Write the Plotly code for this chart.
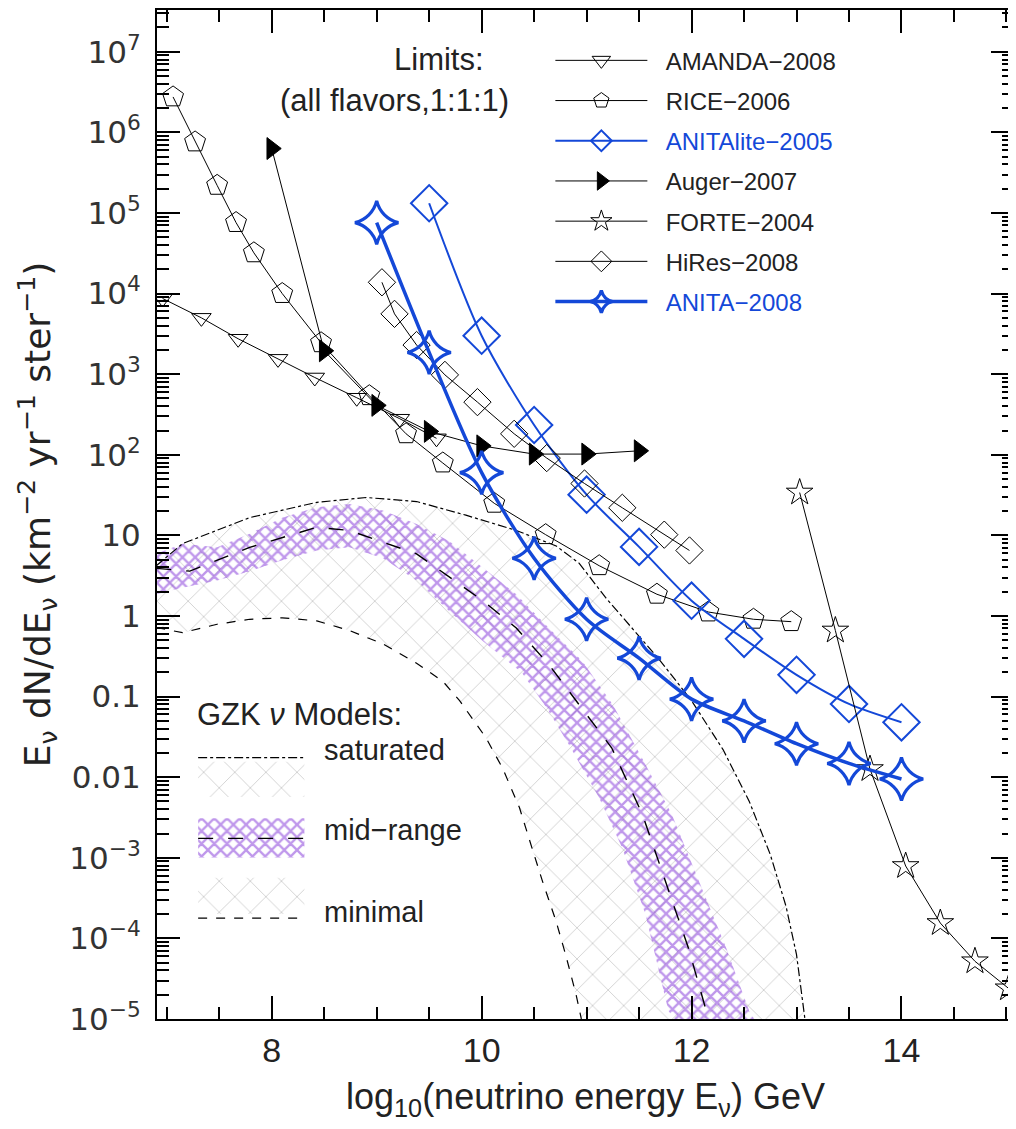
import plotly.graph_objects as go

# ---------------- data ----------------
amanda_x = [6.96, 7.33, 7.68, 8.06, 8.41, 8.81, 9.22, 9.57]
amanda_y = [8700, 5000, 2750, 1550, 910, 510, 280, 160]

rice_x = [7.06, 7.27, 7.48, 7.66, 7.83, 8.10, 8.47, 8.93, 9.28, 9.63, 10.12, 10.61, 11.12, 11.67, 12.16, 12.59, 12.95]
rice_y = [2.75e6, 7.6e5, 2.2e5, 7.6e4, 3.2e4, 1.0e4, 2450, 540, 182, 79, 25, 10.2, 4.2, 1.86, 1.12, 0.91, 0.85]

anitalite_x = [9.5, 10.0, 10.5, 11.0, 11.5, 12.0, 12.5, 13.0, 13.5, 14.0]
anitalite_y = [1.32e5, 3000, 234, 32, 7.2, 1.55, 0.52, 0.186, 0.081, 0.048]

auger_x = [8.0, 8.5, 9.0, 9.5, 10.0, 10.5, 11.0, 11.5]
auger_y = [6.3e5, 1950, 410, 195, 129, 102, 102, 112]

forte_x = [13.03, 13.37, 13.70, 14.04, 14.37, 14.70, 15.02]
forte_y = [34, 0.66, 0.0126, 7.9e-4, 1.55e-4, 5.2e-5, 2.4e-5]

hires_x = [9.05, 9.17, 9.38, 9.65, 9.96, 10.31, 10.62, 10.98, 11.34, 11.74, 11.98]
hires_y = [13800, 5600, 2300, 980, 450, 182, 91, 44, 22, 10.2, 6.5]

anita_x = [9.0, 9.5, 10.0, 10.5, 11.0, 11.5, 12.0, 12.5, 13.0, 13.5, 14.0]
anita_y = [7.6e4, 1860, 60, 5.2, 0.91, 0.30, 0.093, 0.050, 0.026, 0.0148, 0.0095]

# GZK model curves
sat_x = [6.9, 7.15, 7.79, 8.43, 8.90, 9.38, 9.85, 10.33, 10.71, 10.93, 11.18, 11.40, 11.70, 12.0, 12.3, 12.55, 12.75, 12.9, 13.0, 13.08]
sat_y = [4.2, 7.9, 16.6, 25.7, 29.5, 26.3, 17.8, 11.5, 7.4, 4.5, 1.7, 0.79, 0.28, 0.089, 0.022, 0.005, 1.1e-3, 2.5e-4, 6.3e-5, 1e-5]

min_x = [6.9, 7.15, 7.48, 7.79, 8.10, 8.43, 8.74, 9.06, 9.38, 9.63, 9.79, 10.04, 10.20, 10.36, 10.48, 10.58, 10.71, 10.80, 10.90, 10.95]
min_y = [0.72, 0.62, 0.79, 0.91, 0.95, 0.87, 0.66, 0.45, 0.26, 0.155, 0.089, 0.031, 0.0129, 4.2e-3, 1.32e-3, 5.1e-4, 1.62e-4, 6.3e-5, 2.0e-5, 1e-5]

mid_x = [6.9, 7.22, 7.79, 8.43, 8.74, 9.38, 10.01, 10.33, 10.64, 11.24, 11.53, 11.75, 11.97, 12.14, 12.17]
mid_y = [3.9, 3.6, 7.1, 12.6, 11.5, 5.9, 1.55, 0.71, 0.25, 0.023, 3.5e-3, 5.1e-4, 7.6e-5, 1.26e-5, 1e-5]

midhi_x = [6.9, 7.15, 7.48, 7.79, 8.10, 8.43, 8.74, 9.06, 9.38, 9.69, 10.01, 10.33, 10.64, 10.96, 11.25, 11.56, 11.81, 12.07, 12.33, 12.56, 12.6]
midhi_y = [5.9, 7.9, 7.1, 10.5, 16.6, 22.4, 24.5, 20.4, 13.8, 8.5, 4.0, 1.86, 0.71, 0.275, 0.079, 0.0145, 3.5e-3, 5.1e-4, 7.6e-5, 1.15e-5, 1e-5]

midlo_x = [6.9, 7.15, 7.48, 7.79, 8.10, 8.43, 8.74, 9.06, 9.38, 9.69, 10.01, 10.38, 10.62, 10.85, 11.12, 11.34, 11.56, 11.78, 11.84]
midlo_y = [1.86, 2.24, 2.75, 3.6, 4.9, 6.5, 7.1, 5.2, 2.75, 1.15, 0.49, 0.2, 0.072, 0.023, 5.5e-3, 1.32e-3, 2.0e-4, 1.26e-5, 1e-5]

y_tick_vals = [1e-5, 1e-4, 1e-3, 1e-2, 1e-1, 1, 10, 1e2, 1e3, 1e4, 1e5, 1e6, 1e7]
y_tick_text = ["10<sup>\u22125</sup>", "10<sup>\u22124</sup>", "10<sup>\u22123</sup>", "0.01", "0.1", "1", "10",
               "10<sup>2</sup>", "10<sup>3</sup>", "10<sup>4</sup>", "10<sup>5</sup>", "10<sup>6</sup>", "10<sup>7</sup>"]

BLUE = "#1448d8"
PURPLE = "#8030d8"
GREY = "rgba(0,0,0,0.6)"
FONT = "Liberation Sans"
NB = "\u00a0\u00a0"

fig = go.Figure()

GREY_PAT = dict(shape="x", size=22, solidity=0.05, fgcolor=GREY, bgcolor="rgba(0,0,0,0)")
PURP_PAT = dict(shape="x", size=9, solidity=0.45, fgcolor=PURPLE, bgcolor="rgba(0,0,0,0)")

# ---------------- GZK bands ----------------
fig.add_trace(go.Scatter(
    x=sat_x + min_x[::-1], y=sat_y + min_y[::-1], mode="lines", fill="toself",
    fillcolor="rgba(0,0,0,0)", line=dict(width=0), fillpattern=GREY_PAT,
    showlegend=False, hoverinfo="skip"))
fig.add_trace(go.Scatter(
    x=midhi_x + midlo_x[::-1], y=midhi_y + midlo_y[::-1], mode="lines", fill="toself",
    fillcolor="rgba(0,0,0,0)", line=dict(width=0), fillpattern=PURP_PAT,
    showlegend=False, hoverinfo="skip"))
fig.add_trace(go.Scatter(x=sat_x, y=sat_y, mode="lines", line=dict(color="black", width=1.2, dash="dashdot"),
                         showlegend=False, hoverinfo="skip"))
fig.add_trace(go.Scatter(x=min_x, y=min_y, mode="lines", line=dict(color="black", width=1.2, dash="dash"),
                         showlegend=False, hoverinfo="skip"))
fig.add_trace(go.Scatter(x=mid_x, y=mid_y, mode="lines", line=dict(color="black", width=1.4, dash="longdash"),
                         showlegend=False, hoverinfo="skip"))

# ---------------- experimental limits ----------------
def add_limit(x, y, name, symbol, size, color, lw, mlw, shape="linear", group=None):
    fig.add_trace(go.Scatter(
        x=x, y=y, name=name, mode="lines+markers", legendgroup=group or name,
        line=dict(color=color, width=lw, shape=shape, smoothing=0.8),
        marker=dict(symbol=symbol, size=size, color=color, line=dict(color=color, width=mlw)),
    ))

add_limit(amanda_x, amanda_y, NB + "AMANDA\u22122008", "triangle-down-open", 17, "black", 1, 1, group="a")
add_limit(rice_x, rice_y, NB + "RICE\u22122006", "pentagon-open", 22, "black", 1, 1, group="b")
add_limit(anitalite_x, anitalite_y, NB + f'<span style="color:{BLUE}">ANITAlite\u22122005</span>',
          "diamond-open", 28, BLUE, 2, 2, shape="spline", group="c")
add_limit(auger_x, auger_y, NB + "Auger\u22122007", "triangle-right", 19, "black", 1, 1, group="d")
add_limit(forte_x, forte_y, NB + "FORTE\u22122004", "star-open", 20, "black", 1, 1, group="e")
add_limit(hires_x, hires_y, NB + "HiRes\u22122008", "diamond-open", 21, "black", 1, 1, group="f")
add_limit(anita_x, anita_y, NB + f'<span style="color:{BLUE}">ANITA\u22122008</span>',
          "star-diamond-open", 31, BLUE, 3.5, 3.2, shape="spline", group="g")

# ---------------- GZK legend swatches (overlay axis in plot fractions) ----------------
def frac_box(x0, x1, y0, y1):
    return [x0, x1, x1, x0, x0], [y0, y0, y1, y1, y0]

sw_x0, sw_x1 = 0.048, 0.172
for (y0, y1, pat) in [(0.220, 0.255, GREY_PAT), (0.160, 0.199, PURP_PAT), (0.104, 0.140, GREY_PAT)]:
    bx, by = frac_box(sw_x0, sw_x1, y0, y1)
    fig.add_trace(go.Scatter(x=bx, y=by, xaxis="x2", yaxis="y2", mode="lines", fill="toself",
                             fillcolor="rgba(0,0,0,0)", line=dict(width=0), showlegend=False,
                             hoverinfo="skip", fillpattern=pat))
for (yy, dash, w) in [(0.259, "dashdot", 1.2), (0.179, "longdash", 1.4), (0.100, "dash", 1.2)]:
    fig.add_trace(go.Scatter(x=[sw_x0, sw_x1], y=[yy, yy], xaxis="x2", yaxis="y2", mode="lines",
                             line=dict(color="black", width=w, dash=dash), showlegend=False, hoverinfo="skip"))

# ---------------- annotations ----------------
def tf(size):
    return dict(family=FONT, size=size, color="#222")

ann = [
    dict(text="Limits:", x=0.3295, y=0.951, xanchor="center", yanchor="middle", font=tf(31)),
    dict(text="(all flavors,1:1:1)", x=0.277, y=0.910, xanchor="center", yanchor="middle", font=tf(31)),
    dict(text="GZK <i>\u03bd</i> Models:", x=0.044, y=0.302, xanchor="left", yanchor="middle", font=tf(31)),
    dict(text="saturated", x=0.192, y=0.2666, xanchor="left", yanchor="middle", font=tf(29)),
    dict(text="mid\u2212range", x=0.192, y=0.1873, xanchor="left", yanchor="middle", font=tf(29)),
    dict(text="minimal", x=0.192, y=0.106, xanchor="left", yanchor="middle", font=tf(29)),
]
for a in ann:
    a.update(xref="paper", yref="paper", showarrow=False)

fig.update_layout(
    width=1008, height=1121,
    margin=dict(l=149, r=0, t=2, b=110),
    paper_bgcolor="white", plot_bgcolor="white",
    font=dict(family=FONT, color="#222"),
    annotations=ann,
    legend=dict(x=0.459, y=0.972, xanchor="left", yanchor="top", bgcolor="rgba(0,0,0,0)",
                font=dict(family=FONT, size=24, color="#222"), itemwidth=92, tracegroupgap=6),
    xaxis=dict(range=[6.907, 15.072], tickmode="linear", tick0=0, dtick=2, ticks="inside", ticklen=23,
               tickwidth=1.5, tickcolor="black", showline=True, linecolor="black", linewidth=2, mirror="ticks",
               showgrid=False, zeroline=False,
               minor=dict(dtick=0.5, tick0=0, ticks="inside", ticklen=12, tickwidth=1.5, tickcolor="black", showgrid=False),
               tickfont=dict(family=FONT, size=34, color="#222"),
               title=dict(text="log<sub>10</sub>(neutrino energy E<sub>\u03bd</sub>) GeV",
                          font=dict(family=FONT, size=36, color="#222"), standoff=16)),
    yaxis=dict(type="log", range=[-5, 7.518], tickmode="array", tickvals=y_tick_vals, ticktext=y_tick_text,
               ticks="inside", ticklen=23, tickwidth=1.5, tickcolor="black", showline=True, linecolor="black",
               linewidth=2, mirror="ticks", showgrid=False, zeroline=False, ticklabelstandoff=8,
               minor=dict(dtick="D1", ticks="inside", ticklen=12, tickwidth=1.5, tickcolor="black", showgrid=False),
               tickfont=dict(family="DejaVu Sans", size=31, color="#333"),
               title=dict(text="E<sub>\u03bd</sub> dN/dE<sub>\u03bd</sub> (km<sup>\u22122</sup> yr<sup>\u22121</sup> ster<sup>\u22121</sup>)",
                          font=dict(family="DejaVu Sans", size=36, color="#222"), standoff=8)),
    xaxis2=dict(overlaying="x", range=[0, 1], visible=False),
    yaxis2=dict(overlaying="y", range=[0, 1], visible=False),
)

fig.write_html("out.html")
